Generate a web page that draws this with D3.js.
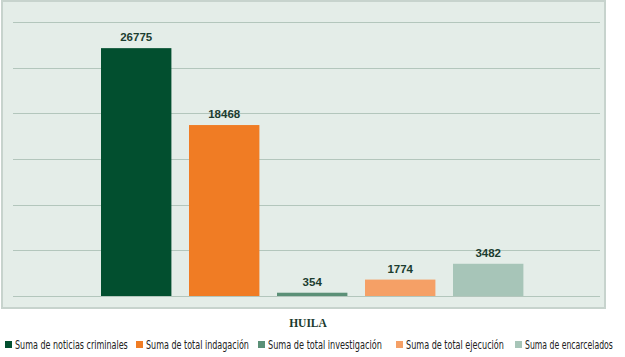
<!DOCTYPE html>
<html><head><meta charset="utf-8">
<script src="https://cdn.jsdelivr.net/npm/d3@7"></script>
<style>
html,body{margin:0;padding:0;background:#fff;}
svg{display:block;}
</style></head>
<body><svg id="c" width="625" height="357"></svg>
<script>
const categories = ["Suma de noticias criminales","Suma de total indagación","Suma de total investigación","Suma de total ejecución","Suma de encarcelados"];
const values = [26775, 18468, 354, 1774, 3482];
const colors = ["#024f2f","#f07c24","#5b9077","#f5a066","#a7c5b8"];
const groupLabel = "HUILA";

const svg = d3.select("#c");
// panel
svg.append("rect").attr("x",2).attr("y",1).attr("width",603).attr("height",307)
  .attr("fill","#e4ede8").attr("stroke","#c7d3cd").attr("stroke-width",2);

const y = d3.scaleLinear().domain([0, 29600]).range([296, 22]);
const x = d3.scaleBand().domain(categories).range([92.2, 532.2]).paddingInner(0.2).paddingOuter(0.1);

const gridTicks = d3.range(0, 7).map(i => i * 29600 / 6);
svg.append("g").selectAll("line").data(gridTicks).join("line")
  .attr("x1",13).attr("x2",600)
  .attr("y1",d=>Math.round(y(d))+0.5).attr("y2",d=>Math.round(y(d))+0.5)
  .attr("stroke","#b3c6bc").attr("stroke-width",1.2);

svg.append("g").selectAll("rect").data(values).join("rect")
  .attr("x",(d,i)=>x(categories[i]))
  .attr("width",x.bandwidth())
  .attr("y",d=>y(d))
  .attr("height",d=>y(0)-y(d))
  .attr("fill",(d,i)=>colors[i]);

svg.append("g").selectAll("text").data(values).join("text")
  .attr("x",(d,i)=>x(categories[i])+x.bandwidth()/2)
  .attr("y",d=>y(d)-7)
  .attr("text-anchor","middle")
  .attr("font-family","Liberation Sans, Arial, sans-serif")
  .attr("font-weight","bold").attr("font-size","11.5px")
  .attr("fill","#1c3d30")
  .text(d=>d);

svg.append("text").attr("x",308).attr("y",327).attr("text-anchor","middle")
  .attr("font-family","Liberation Serif, DejaVu Serif, serif").attr("font-weight","bold")
  .attr("font-size","11.5px").attr("fill","#1a3a2d").text(groupLabel);

const legendX = [5, 136, 258, 396, 515];
const legendW = [113, 103, 114, 98, 88];
const lg = svg.append("g").selectAll("g").data(categories).join("g")
  .attr("transform",(d,i)=>`translate(${legendX[i]},345)`);
lg.append("rect").attr("x",0).attr("y",-4).attr("width",7).attr("height",7).attr("fill",(d,i)=>colors[i]);
lg.append("text").attr("x",0).attr("y",0)
  .attr("font-family","Liberation Sans Narrow, DejaVu Sans Condensed, Arial, sans-serif")
  .attr("font-size","11.5px").attr("fill","#222")
  .text(d=>d)
  .each(function(d,i){
    const w = this.getComputedTextLength();
    const s = legendW[i] / w;
    d3.select(this).attr("transform",`translate(10,4) scale(${s},1)`);
  });
</script></body></html>
